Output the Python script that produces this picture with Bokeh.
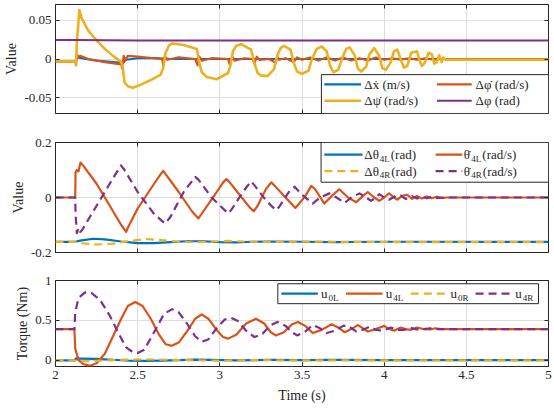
from bokeh.plotting import figure
from bokeh.layouts import column
from bokeh.models import (Range1d, FixedTicker, CustomJSTickFormatter, LinearAxis,
                          BoxAnnotation, Arrow, Label)
from bokeh.embed import file_html
from bokeh.resources import INLINE

FONT = "Liberation Serif"
INK = "#262626"
BLUE, RED, YELLOW, PURPLE = "#0072BD", "#D95319", "#EDB120", "#7E2F8E"

X_TICKS = [2, 2.5, 3, 3.5, 4, 4.5, 5]
Y1_TICKS = [-0.05, 0, 0.05]
Y2_TICKS = [-0.2, 0, 0.2]
Y3_TICKS = [0, 0.5, 1]

# ---------------- panel 1 (Value) ----------------
DX = [(2.0, -0.003), (2.12, -0.003), (2.13, 0.002), (2.16, 0.001), (2.25, -0.002),
      (2.35, -0.004), (2.41, -0.005), (2.43, -0.001), (2.5, 0.001), (2.6, 0.001),
      (2.7, 0.0), (2.8, 0.0), (3.0, 0.0), (3.5, 0.0), (5.0, 0.0)]
PHI_DOT = [(2.0, -0.003), (2.12, -0.003), (2.125, -0.008), (2.13, 0.006), (2.14, 0.003),
           (2.15, 0.004), (2.2, 0.0), (2.3, -0.004), (2.4, -0.007), (2.405, -0.012),
           (2.415, 0.004), (2.425, -0.002), (2.44, 0.004), (2.5, 0.003), (2.6, 0.001),
           (2.65, 0.0), (2.655, -0.008), (2.665, 0.004), (2.68, -0.001), (2.75, 0.002),
           (2.85, 0.0), (2.865, -0.008), (2.875, 0.003), (2.89, -0.002), (2.95, 0.001),
           (3.05, 0.0), (3.06, -0.007), (3.075, 0.003), (3.09, -0.002), (3.15, 0.001),
           (3.2, 0.0), (3.21, -0.006), (3.225, 0.003), (3.24, -0.001), (3.3, 0.0),
           (3.34, -0.005), (3.35, 0.003), (3.36, -0.001), (3.4, 0.001), (3.45, -0.004),
           (3.47, 0.002), (3.5, -0.001), (3.55, 0.002), (3.6, -0.002), (3.65, 0.002),
           (3.7, -0.002), (3.75, 0.002), (3.8, -0.002), (3.85, 0.001), (3.9, -0.002),
           (3.95, 0.002), (4.0, -0.001), (4.05, 0.001), (4.1, -0.001), (4.15, 0.001),
           (4.2, -0.001), (4.25, 0.001), (4.3, -0.001), (4.35, 0.0), (5.0, 0.0)]
PSI_DOT = [(2.00, -0.003), (2.12, -0.003), (2.125, -0.008), (2.13, 0.02), (2.145, 0.063),
           (2.16, 0.052), (2.2, 0.036), (2.25, 0.024), (2.3, 0.013), (2.35, 0.004),
           (2.4, -0.004), (2.41, -0.012), (2.42, -0.03), (2.44, -0.035), (2.47, -0.037),
           (2.52, -0.033), (2.58, -0.027), (2.64, -0.02), (2.655, -0.012), (2.67, 0.008),
           (2.69, 0.017), (2.71, 0.02), (2.78, 0.018), (2.86, 0.013), (2.875, -0.005),
           (2.89, -0.017), (2.92, -0.023), (2.98, -0.026), (3.05, -0.018), (3.065, -0.008),
           (3.08, 0.01), (3.1, 0.017), (3.13, 0.019), (3.19, 0.012), (3.21, -0.005),
           (3.23, -0.018), (3.25, -0.021), (3.29, -0.022), (3.33, -0.013), (3.35, 0.005),
           (3.37, 0.014), (3.39, 0.017), (3.43, 0.012), (3.45, -0.005), (3.47, -0.016),
           (3.5, -0.019), (3.54, -0.015), (3.56, 0.0), (3.59, 0.013), (3.62, 0.016),
           (3.65, 0.01), (3.67, -0.008), (3.69, -0.017), (3.72, -0.014), (3.75, 0.004),
           (3.77, 0.013), (3.79, 0.015), (3.82, 0.005), (3.84, -0.012), (3.86, -0.016),
           (3.89, -0.01), (3.91, 0.006), (3.94, 0.014), (3.97, 0.004), (3.99, -0.012),
           (4.01, -0.014), (4.04, -0.004), (4.06, 0.01), (4.08, 0.012), (4.1, 0.0),
           (4.12, -0.011), (4.14, -0.009), (4.165, 0.008), (4.2, 0.01), (4.215, -0.002),
           (4.23, -0.009), (4.25, -0.004), (4.27, 0.008), (4.29, 0.006), (4.305, -0.006),
           (4.32, -0.004), (4.335, 0.005), (4.35, -0.004), (4.36, 0.002), (4.375, -0.001),
           (5.0, -0.001)]
PHI = [(2.0, 0.0245), (2.12, 0.0245), (2.5, 0.0238), (3.5, 0.0238), (5.0, 0.0238)]

# ---------------- panel 2 (Value) ----------------
TH4L = [(2.0, -0.161), (2.12, -0.161), (2.15, -0.157), (2.23, -0.150), (2.3, -0.152),
        (2.4, -0.160), (2.5, -0.166), (2.6, -0.166), (2.7, -0.162), (2.8, -0.159),
        (2.9, -0.159), (3.0, -0.162), (3.1, -0.163), (3.2, -0.161), (3.3, -0.160),
        (3.5, -0.161), (3.7, -0.162), (4.0, -0.161), (5.0, -0.161)]
TH4L_DOT = [(2.0, 0.0), (2.12, 0.0), (2.122, 0.09), (2.13, 0.10), (2.14, 0.095),
            (2.152, 0.127), (2.17, 0.115), (2.25, 0.05), (2.33, -0.03), (2.40, -0.10),
            (2.43, -0.125), (2.44, -0.11), (2.5, -0.04), (2.6, 0.05), (2.64, 0.085),
            (2.656, 0.097), (2.67, 0.085), (2.75, 0.02), (2.83, -0.05), (2.87, -0.076),
            (2.9, -0.05), (2.97, 0.01), (3.02, 0.055), (3.04, 0.067), (3.06, 0.055),
            (3.12, 0.01), (3.18, -0.035), (3.206, -0.05), (3.23, -0.03), (3.28, 0.03),
            (3.313, 0.055), (3.33, 0.045), (3.4, 0.0), (3.46, -0.038), (3.52, 0.005),
            (3.556, 0.042), (3.58, 0.03), (3.636, -0.022), (3.68, 0.005), (3.727, 0.03),
            (3.78, 0.0), (3.83, -0.017), (3.87, 0.005), (3.9, 0.02), (3.94, 0.0),
            (3.97, -0.012), (4.0, 0.0), (4.03, 0.015), (4.06, 0.0), (4.08, -0.008),
            (4.11, 0.006), (4.14, 0.01), (4.17, -0.005), (4.2, 0.006), (4.23, -0.004),
            (4.26, 0.004), (4.29, -0.003), (4.32, 0.003), (4.35, -0.002), (4.38, 0.0),
            (5.0, 0.0)]
TH4R = [(2.0, -0.161), (2.12, -0.161), (2.15, -0.166), (2.25, -0.171), (2.35, -0.168),
        (2.45, -0.158), (2.555, -0.151), (2.65, -0.155), (2.75, -0.161), (2.85, -0.163),
        (2.95, -0.160), (3.05, -0.158), (3.15, -0.160), (3.3, -0.162), (3.5, -0.160),
        (3.7, -0.161), (4.0, -0.162), (5.0, -0.162)]
TH4R_DOT = [(2.0, 0.0), (2.12, 0.0), (2.122, -0.06), (2.13, -0.13), (2.14, -0.11),
            (2.15, -0.125), (2.16, -0.12), (2.25, -0.03), (2.33, 0.05), (2.398, 0.117),
            (2.42, 0.1), (2.5, 0.02), (2.6, -0.06), (2.667, -0.095), (2.7, -0.07),
            (2.78, 0.02), (2.85, 0.075), (2.87, 0.065), (2.95, 0.0), (3.05, -0.058),
            (3.07, -0.045), (3.14, 0.02), (3.19, 0.059), (3.21, 0.045), (3.28, -0.01),
            (3.34, -0.046), (3.36, -0.035), (3.42, 0.02), (3.455, 0.039), (3.5, 0.01),
            (3.565, -0.022), (3.61, 0.0), (3.667, 0.015), (3.71, 0.0), (3.76, -0.02),
            (3.8, 0.0), (3.85, 0.015), (3.89, 0.0), (3.92, -0.012), (3.95, 0.0),
            (3.97, 0.012), (4.0, 0.0), (4.03, -0.008), (4.07, 0.006), (4.1, 0.008),
            (4.13, -0.005), (4.17, 0.005), (4.2, -0.004), (4.23, 0.004), (4.26, -0.003),
            (4.29, 0.003), (4.32, -0.002), (4.36, 0.0), (5.0, 0.0)]

# ---------------- panel 3 (Torque) ----------------
U0L = [(2.0, -0.004), (2.115, -0.004), (2.125, 0.022), (2.15, 0.02), (2.25, 0.015),
       (2.35, 0.005), (2.45, -0.008), (2.55, -0.01), (2.65, -0.006), (2.75, 0.0),
       (2.85, 0.006), (2.95, 0.004), (3.1, -0.002), (3.3, 0.002), (3.5, 0.0),
       (3.7, 0.002), (4.0, 0.0), (5.0, 0.0)]
U4L = [(2.0, 0.39), (2.115, 0.39), (2.12, 0.15), (2.14, 0.0), (2.17, -0.05), (2.21, -0.07),
       (2.25, -0.04), (2.3, 0.08), (2.35, 0.3), (2.4, 0.52), (2.44, 0.68), (2.485, 0.73),
       (2.53, 0.68), (2.58, 0.52), (2.63, 0.32), (2.67, 0.2), (2.707, 0.18), (2.75, 0.22),
       (2.8, 0.36), (2.85, 0.52), (2.889, 0.575), (2.93, 0.52), (2.98, 0.38), (3.02, 0.29),
       (3.05, 0.27), (3.1, 0.32), (3.16, 0.46), (3.22, 0.52), (3.27, 0.46), (3.31, 0.35),
       (3.34, 0.31), (3.39, 0.35), (3.44, 0.45), (3.475, 0.48), (3.52, 0.43), (3.565, 0.34),
       (3.62, 0.38), (3.68, 0.45), (3.72, 0.41), (3.76, 0.35), (3.8, 0.39), (3.84, 0.44),
       (3.87, 0.4), (3.9, 0.36), (3.95, 0.39), (4.0, 0.43), (4.03, 0.39), (4.06, 0.37),
       (4.1, 0.41), (4.13, 0.39), (4.16, 0.38), (4.2, 0.41), (4.24, 0.39), (4.28, 0.385),
       (4.31, 0.4), (4.35, 0.39), (5.0, 0.39)]
U0R = [(2.0, -0.004), (2.115, -0.004), (2.13, -0.015), (2.2, -0.012), (2.3, -0.004),
       (2.45, 0.006), (2.55, 0.01), (2.7, 0.004), (2.85, -0.004), (3.0, -0.006),
       (3.2, 0.0), (3.4, -0.003), (3.7, -0.002), (4.0, -0.004), (5.0, -0.004)]
U4R = [(2.0, 0.39), (2.115, 0.39), (2.12, 0.6), (2.14, 0.78), (2.18, 0.85), (2.22, 0.84),
       (2.27, 0.76), (2.33, 0.56), (2.38, 0.35), (2.43, 0.16), (2.47, 0.1), (2.5, 0.09),
       (2.54, 0.13), (2.6, 0.35), (2.66, 0.58), (2.71, 0.64), (2.75, 0.6), (2.8, 0.46),
       (2.85, 0.3), (2.89, 0.23), (2.93, 0.26), (2.98, 0.4), (3.03, 0.51), (3.07, 0.53),
       (3.11, 0.49), (3.16, 0.37), (3.21, 0.29), (3.26, 0.33), (3.31, 0.44), (3.35, 0.48),
       (3.4, 0.43), (3.44, 0.35), (3.47, 0.31), (3.52, 0.36), (3.565, 0.44), (3.61, 0.4),
       (3.65, 0.34), (3.7, 0.37), (3.75, 0.43), (3.78, 0.43), (3.83, 0.36), (3.87, 0.38),
       (3.91, 0.42), (3.95, 0.38), (3.99, 0.37), (4.04, 0.41), (4.08, 0.38), (4.12, 0.38),
       (4.16, 0.405), (4.2, 0.385), (4.24, 0.39), (4.28, 0.4), (4.32, 0.39), (5.0, 0.39)]

# approximate advance widths (em) for Liberation Serif
W = {' ': 0.25, '(': 0.333, ')': 0.333, '/': 0.278, '0': 0.5, '4': 0.5, 'L': 0.611,
     'R': 0.667, 'a': 0.444, 'd': 0.5, 'm': 0.778, 'r': 0.333, 's': 0.389, 'u': 0.5,
     'x': 0.5, 'Δ': 0.612, 'θ': 0.5, 'φ': 0.55, 'ψ': 0.65, '\u0307': 0.0}


def tw(s, size):
    return sum(W.get(c, 0.5) for c in s) * size


def split(pairs):
    return [a for a, _ in pairs], [b for _, b in pairs]


def style_axis(ax, labels=True):
    ax.axis_line_color = None
    ax.major_tick_in = 4
    ax.major_tick_out = 0
    ax.minor_tick_line_color = None
    ax.major_tick_line_color = INK
    ax.major_label_text_font = FONT
    ax.major_label_text_color = INK
    ax.axis_label_text_font = FONT
    ax.axis_label_text_font_size = "14px"
    ax.axis_label_text_font_style = "normal"
    ax.axis_label_text_color = INK
    ax.axis_label_standoff = 2
    if labels:
        ax.major_label_text_font_size = "13px"
        ax.major_label_standoff = 4
        ax.formatter = CustomJSTickFormatter(code="return String(tick)")
    else:
        ax.major_label_text_font_size = "0px"
        ax.major_label_standoff = 0
        ax.formatter = CustomJSTickFormatter(code="return ''")


def make_fig(height, top, bottom, yr, yticks, ylabel, xlabel_on):
    p = figure(width=552, height=height, x_range=Range1d(2, 5), y_range=Range1d(*yr),
               output_backend="svg", toolbar_location=None,
               min_border_left=55, min_border_right=4,
               min_border_top=top, min_border_bottom=bottom)
    p.outline_line_color = INK
    p.outline_line_width = 1
    p.background_fill_color = "white"
    p.border_fill_color = "white"
    p.xaxis.ticker = FixedTicker(ticks=X_TICKS)
    p.yaxis.ticker = FixedTicker(ticks=yticks)
    p.xgrid.ticker = FixedTicker(ticks=X_TICKS)
    p.ygrid.ticker = FixedTicker(ticks=yticks)
    for g in (p.xgrid[0], p.ygrid[0]):
        g.grid_line_color = "#dedede"
        g.grid_line_width = 1
    style_axis(p.yaxis[0], True)
    p.yaxis[0].axis_label = ylabel
    style_axis(p.xaxis[0], xlabel_on)
    if xlabel_on:
        p.xaxis[0].axis_label = "Time (s)"
        p.xaxis[0].axis_label_standoff = 6
    ta = LinearAxis(ticker=FixedTicker(ticks=X_TICKS))
    style_axis(ta, False)
    p.add_layout(ta, "above")
    ra = LinearAxis(ticker=FixedTicker(ticks=yticks))
    style_axis(ra, False)
    p.add_layout(ra, "right")
    return p


def legend_box(p, left, right, bottom, top):
    p.add_layout(BoxAnnotation(left=left, right=right, bottom=bottom, top=top,
                               fill_color="white", fill_alpha=1.0,
                               line_color=INK, line_width=1, line_alpha=1.0))


def legend_item(p, x0, x1, xt, y, color, width, dash, parts):
    p.add_layout(Arrow(end=None, x_start=x0, y_start=y, x_end=x1, y_end=y,
                       line_color=color, line_width=width, line_dash=dash))
    off = 0.0
    for text, size, dy in parts:
        p.add_layout(Label(x=xt, y=y, x_offset=off, y_offset=dy, text=text,
                           text_font=FONT, text_font_size=f"{size}px",
                           text_baseline="middle", text_align="left", text_color=INK))
        off += tw(text, size) + 1.0


DASH = "8 5"
MAIN = 13
SUB = 9
SDY = -4

# ---- panel 1
p1 = make_fig(134, 4, 21, (-0.07, 0.07), Y1_TICKS, "Value", False)
for data, col, w in ((DX, BLUE, 2.2), (PHI_DOT, RED, 2.2), (PSI_DOT, YELLOW, 2.6),
                     (PHI, PURPLE, 2.0)):
    t, v = split(data)
    p1.line(t, v, line_color=col, line_width=w, line_join="round")
legend_box(p1, 3.618, 5.0, -0.07, -0.0201)
legend_item(p1, 3.636, 3.859, 3.879, -0.0327, BLUE, 2.2, "solid", [("Δẋ (m/s)", MAIN, 0)])
legend_item(p1, 4.321, 4.533, 4.556, -0.0327, RED, 2.2, "solid", [("Δφ̇ (rad/s)", MAIN, 0)])
legend_item(p1, 3.636, 3.859, 3.879, -0.0536, YELLOW, 2.6, "solid", [("Δψ̇ (rad/s)", MAIN, 0)])
legend_item(p1, 4.321, 4.533, 4.556, -0.0536, PURPLE, 2.0, "solid", [("Δφ (rad)", MAIN, 0)])

# ---- panel 2
p2 = make_fig(138, 8, 20, (-0.2, 0.2), Y2_TICKS, "Value", False)
for data, col, dash in ((TH4L, BLUE, "solid"), (TH4L_DOT, RED, "solid"),
                        (TH4R, YELLOW, DASH), (TH4R_DOT, PURPLE, DASH)):
    t, v = split(data)
    p2.line(t, v, line_color=col, line_width=2.2, line_dash=dash, line_join="round")
legend_box(p2, 3.616, 5.0, 0.0556, 0.2)
legend_item(p2, 3.636, 3.868, 3.879, 0.156, BLUE, 2.2, "solid",
            [("Δθ", MAIN, 0), ("4L", SUB, SDY), (" (rad)", MAIN, 0)])
legend_item(p2, 4.313, 4.475, 4.485, 0.156, RED, 2.2, "solid",
            [("θ̇", MAIN, 0), ("4L", SUB, SDY), (" (rad/s)", MAIN, 0)])
legend_item(p2, 3.636, 3.868, 3.879, 0.0956, YELLOW, 2.2, DASH,
            [("Δθ", MAIN, 0), ("4R", SUB, SDY), (" (rad)", MAIN, 0)])
legend_item(p2, 4.313, 4.475, 4.485, 0.0956, PURPLE, 2.2, DASH,
            [("θ̇", MAIN, 0), ("4R", SUB, SDY), (" (rad/s)", MAIN, 0)])

# ---- panel 3
p3 = make_fig(136, 8, 42, (-0.08, 1.0), Y3_TICKS, "Torque (Nm)", True)
for data, col, dash in ((U0L, BLUE, "solid"), (U4L, RED, "solid"),
                        (U0R, YELLOW, DASH), (U4R, PURPLE, DASH)):
    t, v = split(data)
    p3.line(t, v, line_color=col, line_width=2.2, line_dash=dash, line_join="round")
legend_box(p3, 3.353, 4.939, 0.709, 0.959)
legend_item(p3, 3.374, 3.596, 3.616, 0.834, BLUE, 2.2, "solid", [("u", MAIN, 0), ("0L", SUB, SDY)])
legend_item(p3, 3.768, 3.990, 4.010, 0.834, RED, 2.2, "solid", [("u", MAIN, 0), ("4L", SUB, SDY)])
legend_item(p3, 4.162, 4.384, 4.404, 0.834, YELLOW, 2.2, DASH, [("u", MAIN, 0), ("0R", SUB, SDY)])
legend_item(p3, 4.556, 4.778, 4.798, 0.834, PURPLE, 2.2, DASH, [("u", MAIN, 0), ("4R", SUB, SDY)])

layout = column(p1, p2, p3, spacing=0)
open("out.html", "w").write(file_html(layout, INLINE))
